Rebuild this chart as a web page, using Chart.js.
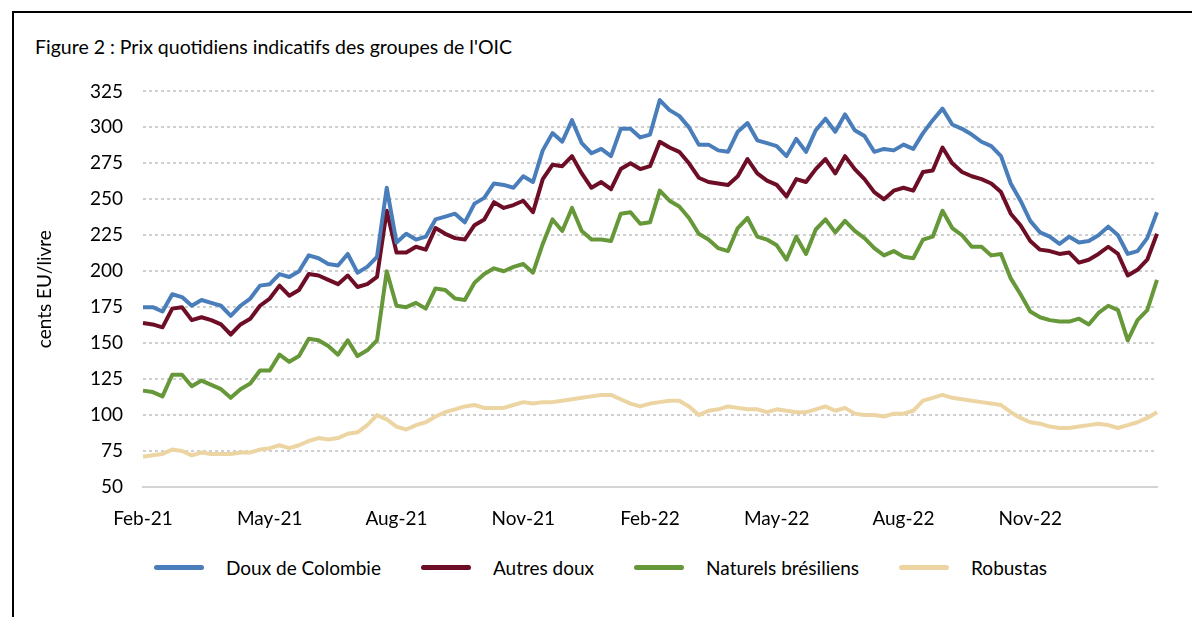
<!DOCTYPE html>
<html>
<head>
<meta charset="utf-8">
<script src="https://cdn.jsdelivr.net/npm/chart.js@4"></script>
<style>
  body { margin: 0; background: #fff; width: 1192px; height: 617px; overflow: hidden; position: relative; font-family: Lato, "Open Sans", sans-serif; }
  #frame { position: absolute; left: 12px; top: 11px; width: 1180px; height: 620px; border-top: 2px solid #000; border-left: 2px solid #000; }
  #title { position: absolute; left: 35px; top: 35px; font-size: 19.5px; color: #000; }
  #wrap { position: absolute; left: 13px; top: 60px; width: 1166px; height: 480px; }
  #legend { position: absolute; top: 556px; left: 154px; display: flex; align-items: center; font-size: 19px; color: #000; }
  .item { display: flex; align-items: center; margin-right: 40px; }
  .swatch { width: 50px; height: 5px; border-radius: 3px; margin-right: 22px; }
</style>
</head>
<body>
<div id="frame"></div>
<div id="title">Figure 2 : Prix quotidiens indicatifs des groupes de l'OIC</div>
<div id="wrap"><canvas id="chart"></canvas></div>
<div id="legend"></div>
<script>
// weekly readings, Feb 2021 - Jan 2023
const seriesNames = ['Doux de Colombie', 'Autres doux', 'Naturels brésiliens', 'Robustas'];
const seriesColors = ['#4a7ebb', '#6d0e26', '#66983a', '#ecd5a3'];
const tickLabels = ['Feb-21', 'May-21', 'Aug-21', 'Nov-21', 'Feb-22', 'May-22', 'Aug-22', 'Nov-22'];

const colombie = [175,175,172,184,182,176,180,178,176,169,176,181,190,191,
  198,196,200,211,209,205,204,212,199,203,210,258,220,
  226,222,224,236,238,240,234,247,251,261,260,258,266,
  262,284,296,290,305,289,282,285,280,299,299,293,295,
  319,312,308,300,288,288,284,283,297,303,291,289,287,
  280,292,283,298,306,297,309,298,294,283,285,284,288,
  285,296,305,313,302,299,295,290,287,280,261,249,235,
  227,224,219,224,220,221,225,231,225,212,214,223,241];
const autresDoux = [164,163,161,174,175,166,168,166,163,156,163,167,176,181,
  190,183,187,198,197,194,191,197,189,191,196,242,213,
  213,217,215,230,226,223,222,232,236,248,244,246,249,
  241,264,274,273,280,268,258,262,257,271,275,271,273,
  290,286,283,275,265,262,261,260,266,278,268,263,260,
  252,264,262,271,278,268,280,271,264,255,250,256,258,
  256,269,270,286,275,269,266,264,261,255,240,232,221,
  215,214,212,213,206,208,212,217,212,197,201,208,226];
const bresiliens = [117,116,113,128,128,120,124,121,118,112,118,122,131,131,
  142,137,141,153,152,148,142,152,141,145,152,200,176,
  175,178,174,188,187,181,180,192,198,202,200,203,205,
  199,219,236,228,244,228,222,222,221,240,241,233,234,
  256,249,245,237,226,222,216,214,230,237,224,222,218,
  208,224,212,229,236,227,235,228,223,216,211,214,210,
  209,222,224,242,230,225,217,217,211,212,195,184,172,
  168,166,165,165,167,163,171,176,173,152,166,173,194];
const robustas = [71,72,73,76,75,72,74,73,73,73,74,74,76,77,
  79,77,79,82,84,83,84,87,88,93,100,97,92,
  90,93,95,99,102,104,106,107,105,105,105,107,109,
  108,109,109,110,111,112,113,114,114,111,108,106,108,
  109,110,110,106,100,103,104,106,105,104,104,102,104,
  103,102,102,104,106,103,105,101,100,100,99,101,101,
  103,110,112,114,112,111,110,109,108,107,102,98,95,
  94,92,91,91,92,93,94,93,91,93,95,98,102];

const allSeries = [colombie, autresDoux, bresiliens, robustas];

// one label per week starting 1 Feb 2021
let weeks = [];
for (let i = 0; i < colombie.length; i++) {
  let d = new Date(2021, 1, 1 + 7 * i);
  weeks.push(d.toISOString().slice(0, 10));
}

let datasets = [];
for (let i = 0; i < seriesNames.length; i++) {
  datasets.push({
    label: seriesNames[i],
    data: allSeries[i],
    borderColor: seriesColors[i],
    backgroundColor: seriesColors[i],
    borderWidth: 4,
    pointRadius: 0,
    tension: 0,
    borderJoinStyle: 'round'
  });
}

const tickFont = { family: 'Lato', size: 19 };

new Chart(document.getElementById('chart').getContext('2d'), {
  type: 'line',
  data: { labels: weeks, datasets: datasets },
  options: {
    responsive: true,
    maintainAspectRatio: false,
    animation: false,
    layout: { padding: { top: 26, right: 22, left: 0, bottom: 0 } },
    plugins: { legend: { display: false }, tooltip: { enabled: false } },
    scales: {
      x: {
        offset: false,
        grid: { display: false, drawTicks: false },
        border: { display: true, color: '#d4d4d4', width: 2 },
        ticks: {
          autoSkip: false,
          maxRotation: 0,
          padding: 20,
          color: '#000',
          font: tickFont,
          callback: function(value, index) {
            return index % 13 === 0 ? (tickLabels[index / 13] || '') : '';
          }
        },
        afterFit: function(s) { s.height = 53; }
      },
      y: {
        min: 50,
        max: 325,
        ticks: { stepSize: 25, padding: 20, color: '#000', font: tickFont },
        grid: {
          drawTicks: false,
          lineWidth: 2,
          color: function(ctx) { return ctx.tick && ctx.tick.value === 50 ? 'rgba(0,0,0,0)' : '#cfcfcf'; }
        },
        border: { display: false, dash: [3, 3] },
        title: {
          display: true,
          text: 'cents EU/livre',
          color: '#000',
          font: { family: 'Lato', size: 19 },
          padding: { top: 20, bottom: 0 }
        },
        afterFit: function(s) { s.width = 130; }
      }
    }
  }
});

// legend drawn in html under the chart
const legend = document.getElementById('legend');
for (let i = 0; i < seriesNames.length; i++) {
  let item = document.createElement('div');
  item.className = 'item';
  let sw = document.createElement('span');
  sw.className = 'swatch';
  sw.style.background = seriesColors[i];
  let txt = document.createElement('span');
  txt.textContent = seriesNames[i];
  item.appendChild(sw);
  item.appendChild(txt);
  legend.appendChild(item);
}
</script>
</body>
</html>
